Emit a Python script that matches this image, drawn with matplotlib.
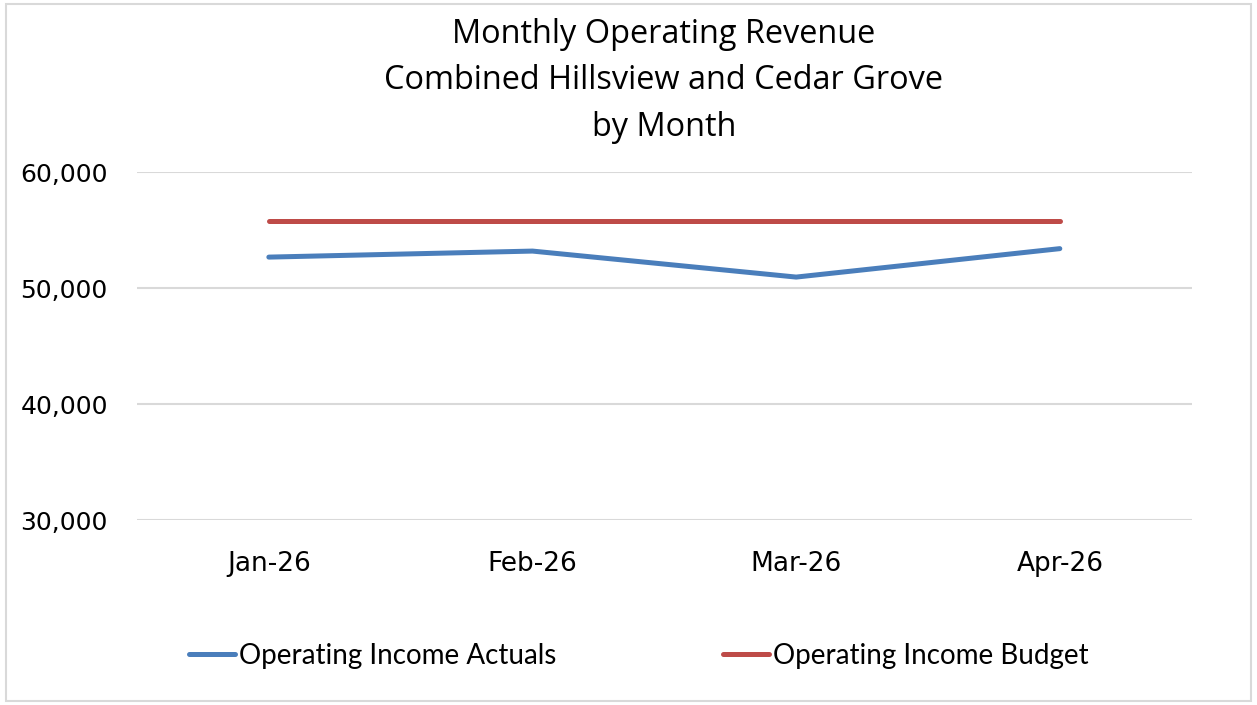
import matplotlib.pyplot as plt
from matplotlib.ticker import FuncFormatter
from matplotlib.patches import Rectangle

# data
months = ['Jan-26', 'Feb-26', 'Mar-26', 'Apr-26']
actuals = [52670, 53190, 50950, 53400]
budget = [55780, 55780, 55780, 55780]

fig = plt.figure(figsize=(12.57, 7.05), dpi=100)
ax = fig.add_axes([0.109, 0.262, 0.839, 0.494])

x = range(len(months))
ax.plot(x, actuals, color='#4a7ebb', lw=3.6, solid_capstyle='round',
        label='Operating Income Actuals')
ax.plot(x, budget, color='#be4b48', lw=3.6, solid_capstyle='round',
        label='Operating Income Budget')

ax.set_xlim(-0.5, len(months) - 0.5)
ax.set_ylim(30000, 60000)
ax.set_yticks([30000, 40000, 50000, 60000])
ax.yaxis.set_major_formatter(FuncFormatter(lambda v, p: f'{v:,.0f}'))
ax.set_xticks(list(x))
ax.set_xticklabels(months)
ax.tick_params(axis='both', length=0)
ax.tick_params(axis='x', pad=22, labelsize=19)
ax.tick_params(axis='y', pad=21, labelsize=18)
ax.grid(axis='y', color='#d9d9d9', lw=1.5)
ax.set_axisbelow(True)
for s in ax.spines.values():
    s.set_visible(False)

fig.text(0.528, 0.975, 'Monthly Operating Revenue\nCombined Hillsview and Cedar Grove\nby Month',
         ha='center', va='top', fontsize=23.4, family='Open Sans', linespacing=1.54)

leg = fig.legend(loc='center', bbox_to_anchor=(0.508, 0.07), ncol=2, frameon=False,
                 handlelength=1.65, handletextpad=0.15, columnspacing=6.0,
                 prop={'family': 'Lato', 'size': 20.0})

# thin grey border round the chart
fig.patches.append(Rectangle((0.005, 0.005), 0.99, 0.99, transform=fig.transFigure,
                             fill=False, edgecolor='#d9d9d9', lw=1.5))

fig.savefig('out.png', dpi=100)
